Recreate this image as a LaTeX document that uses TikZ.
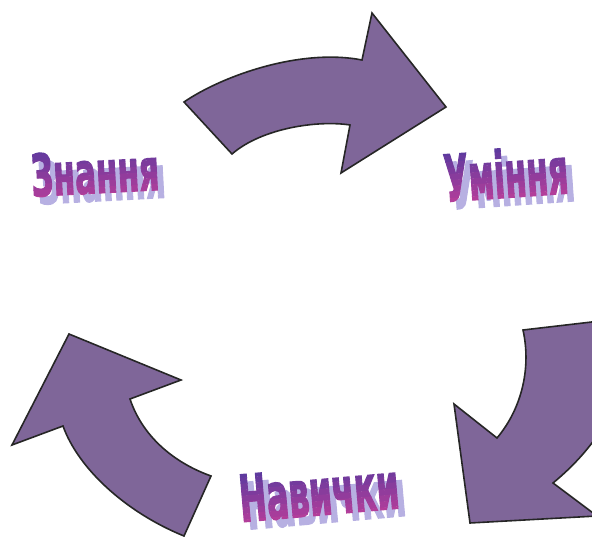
\documentclass[tikz,border=0pt]{standalone}
\usepackage{fontspec}
\newfontfamily\wordfont{DejaVu Sans Condensed}[BoldFeatures={FakeBold=2.5}]
\usepackage{tikz}
\usetikzlibrary{calc}
\definecolor{cyclefill}{HTML}{7F6699}
\definecolor{wordtop}{HTML}{5E3A9E}
\definecolor{wordbot}{HTML}{B23E9A}
\definecolor{wordshade}{HTML}{B7B0E2}
\tikzset{
  cyclearrow/.style={fill=cyclefill,draw=black!85,line width=1.6pt,line join=miter},
  wordtext/.style={inner sep=0pt,transform shape}
}
\newcommand{\wordbox}[3]{\resizebox{#1pt}{#2pt}{\wordfont\bfseries #3}}

\begin{document}
\begin{tikzpicture}[x=1pt,y=-1pt]
  \useasboundingbox (0,0) rectangle (592,537);
  \clip (0,0) rectangle (592,537);
  \filldraw[cyclearrow] (184,102) .. controls (222,76) and (300,48) .. (362,60) -- (372,13)
     -- (446,107) -- (341,173) -- (350,125) .. controls (318,120) and (262,128) .. (232,154) -- cycle;
  \filldraw[cyclearrow] (523,330) .. controls (531,366) and (523,407) .. (497,438) -- (454,404)
     -- (470,523) -- (597,516) -- (553,483) .. controls (605,440) and (635,385) .. (626,318) -- cycle;
  \filldraw[cyclearrow] (69,334) -- (181,380) -- (130,399) .. controls (142,435) and (172,462) .. (211,476)
     -- (184,536) .. controls (125,512) and (78,468) .. (63,426) -- (12,445) -- cycle;
  \foreach \nm/\txt/\cx/\cy/\w/\h/\r in {zn/Знання/95/172/128/43/3,um/Уміння/506/173/124/49/4,nav/Навички/319/492/160/47/5}
  {
    \begin{scope}[shift={(\cx,\cy)},rotate=\r]
      \node[wordtext,text=wordshade] (\nm-sh) at (6,8) {\wordbox{\w}{\h}{\txt}};
      \foreach \i in {0,...,8}
      {
        \pgfmathtruncatemacro{\p}{\i*12.5}
        \begin{scope}
          \clip (-100,-27+6*\i) rectangle ++(200,6.4);
          \node[wordtext,text=wordbot!\p!wordtop] (\nm-\i) at (0,0) {\wordbox{\w}{\h}{\txt}};
        \end{scope}
      }
    \end{scope}
  }
\end{tikzpicture}
\end{document}
